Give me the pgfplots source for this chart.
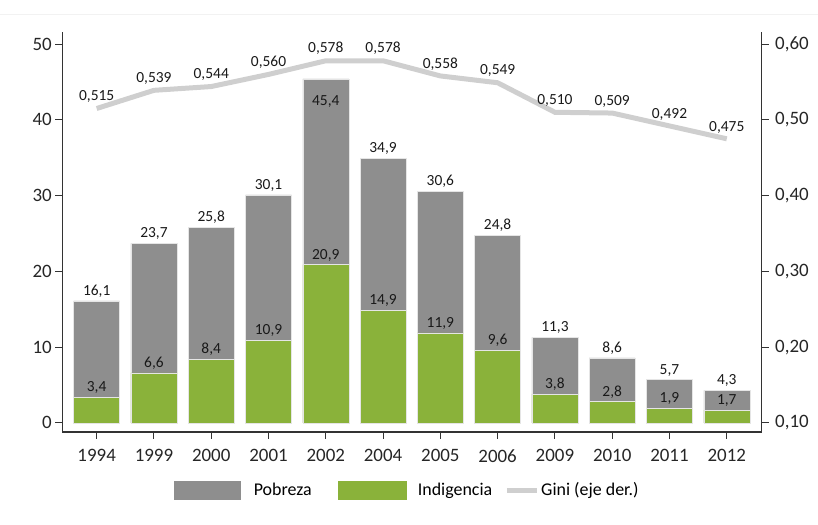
\documentclass[border=0pt]{standalone}
\usepackage{pgfplots}
\usepackage{pgfplotstable}
\pgfplotsset{compat=1.18}
\usepackage{fontspec}
\setmainfont{Carlito}

\definecolor{pobreza}{HTML}{8E8E8E}
\definecolor{indig}{HTML}{8AB23A}
\definecolor{gini}{HTML}{CFCFCF}
\definecolor{axisc}{HTML}{333333}

\pgfplotstableread{
x pob  ind  gini  dy
0 16.1 3.4  0.515 0
1 23.7 6.6  0.539 0
2 25.8 8.4  0.544 0
3 30.1 10.9 0.560 0
4 45.4 20.9 0.578 -32
5 34.9 14.9 0.578 0
6 30.6 11.9 0.558 0
7 24.8 9.6  0.549 0
8 11.3 3.8  0.510 0
9 8.6  2.8  0.509 0
10 5.7 1.9  0.492 0
11 4.3 1.7  0.475 0
}\data

\pgfplotsset{
  /pgf/number format/assume math mode=true,
  base/.style={
    at={(62.3bp,93bp)}, anchor=south west,
    scale only axis, width=699.4bp, height=400bp,
    xmin=-0.6, xmax=11.61,
    axis line style={-, axisc, line width=1.1bp},
    tick style={axisc, line width=1bp},
    tick align=outside, major tick length=7bp,
    tick label style={font=\fontsize{19}{22}\selectfont, text=black!85},
  },
}

\begin{document}
\begin{tikzpicture}
\path[use as bounding box] (0,0) rectangle (818bp,525bp);
\draw[black!5, line width=0.8bp] (0,511bp) -- (818bp,511bp);

\begin{axis}[base,
  ymin=-1.2, ymax=51.6,
  axis x line*=bottom, axis y line*=left,
  xtick={0,...,11},
  xticklabels={1994,1999,2000,2001,2002,2004,2005,2006,2009,2010,2011,2012},
  xticklabel style={yshift=-7bp},
  ytick={0,10,...,50},
  xtick pos=bottom, ytick pos=left,
  nodes near coords style={font=\fontsize{15.5}{18}\selectfont, text=black!90},
]
\addplot[ybar, bar width=46bp, bar shift=0pt, fill=pobreza, draw=black!10, line width=0.5bp,
  visualization depends on={\thisrow{dy} \as \dy},
  nodes near coords={\pgfmathprintnumber[fixed,fixed zerofill,precision=1,use comma]{\pgfplotspointmeta}},
  nodes near coords style={anchor=south, yshift=\dy bp}]
  table[x=x, y=pob] {\data};
\addplot[ybar, bar width=46bp, bar shift=0pt, fill=indig, draw=black!10, line width=0.5bp,
  nodes near coords={\pgfmathprintnumber[fixed,fixed zerofill,precision=1,use comma]{\pgfplotspointmeta}},
  nodes near coords style={anchor=south}]
  table[x=x, y=ind] {\data};
\end{axis}

\begin{axis}[base,
  ymin=0.088, ymax=0.616,
  axis x line=none, axis y line*=right,
  ytick={0.1,0.2,0.3,0.4,0.5,0.6},
  yticklabel style={xshift=3bp},
  yticklabel={\pgfmathprintnumber[fixed,fixed zerofill,precision=2,use comma]{\tick}},
  legend columns=3,
  legend style={at={(0.493,-0.145)}, anchor=center, draw=none, fill=none,
    font=\fontsize{18}{21}\selectfont,
    /tikz/column 2/.style={column sep=24bp},
    /tikz/column 4/.style={column sep=10bp}},
]
\addlegendimage{legend image code/.code={\fill[pobreza] (0bp,-9bp) rectangle (66bp,9bp); \path[draw=none] (0bp,0bp) -- (78bp,0bp);}}
\addlegendimage{legend image code/.code={\fill[indig] (0bp,-9bp) rectangle (68bp,9bp); \path[draw=none] (0bp,0bp) -- (78bp,0bp);}}
\addplot[gini, line width=5bp, no marks,
  legend image code/.code={\draw[gini, line width=5bp] (0bp,0bp) -- (30bp,0bp);},
  nodes near coords={\pgfmathprintnumber[fixed,fixed zerofill,precision=3,use comma]{\pgfplotspointmeta}},
  nodes near coords style={anchor=south, yshift=0bp, font=\fontsize{15.5}{18}\selectfont, text=black!90}]
  table[x=x, y=gini] {\data};
\legend{Pobreza, Indigencia, Gini (eje der.)}
\end{axis}
\end{tikzpicture}
\end{document}
